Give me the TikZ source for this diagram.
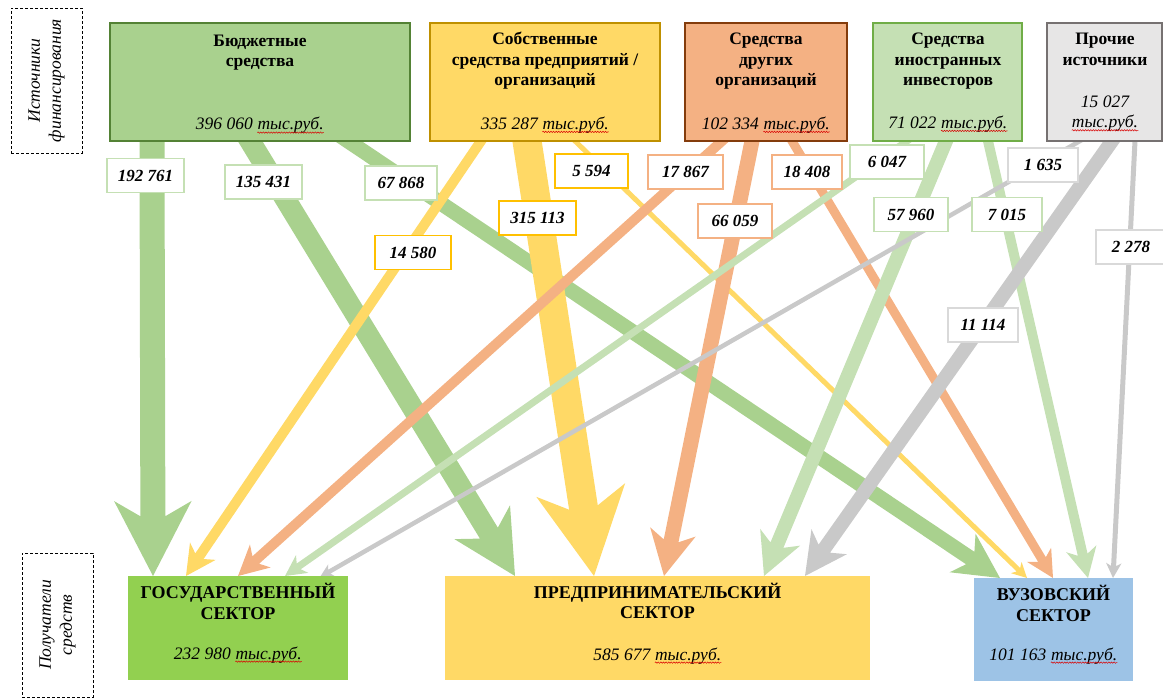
\documentclass[tikz,border=0pt]{standalone}
\usepackage{fontspec}
\setmainfont{Liberation Serif}
\usetikzlibrary{calc,fit,decorations.pathmorphing}
\newcommand\tr{\tikz[baseline=(trw.base)]{\node[inner sep=0pt] (trw) {тыс.руб.};
  \draw[red!85!black, line width=0.5pt, decorate, decoration={snake, amplitude=0.7pt, segment length=2.6pt}]
  ([yshift=-2.6pt]trw.base west) -- ([yshift=-2.6pt]trw.base east);}}
\definecolor{budF}{HTML}{A9D18E}
\definecolor{budD}{HTML}{548235}
\definecolor{ownF}{HTML}{FFD966}
\definecolor{ownD}{HTML}{BF9000}
\definecolor{orgF}{HTML}{F4B183}
\definecolor{orgD}{HTML}{843C0C}
\definecolor{forF}{HTML}{C5E0B4}
\definecolor{forD}{HTML}{70AD47}
\definecolor{othF}{HTML}{E7E6E6}
\definecolor{othD}{HTML}{767171}
\definecolor{othA}{HTML}{C9C9C9}
\definecolor{govF}{HTML}{92D050}
\definecolor{uniF}{HTML}{9DC3E6}
\definecolor{budL}{HTML}{C5E0B4}
\definecolor{ownL}{HTML}{FFC000}
\definecolor{orgL}{HTML}{F4B183}
\definecolor{forL}{HTML}{C5E0B4}
\definecolor{othL}{HTML}{D9D9D9}
% block arrow: #1 start, #2 tip, #3 shaft width, #4 colour
\newcommand\flow[4]{%
  \pgfmathsetmacro\fw{#3/2}%
  \pgfmathsetmacro\fL{3*#3}%
  \pgfmathsetmacro\fH{1.55*#3}%
  \pgfmathsetmacro\fS{3*#3-0.9*#3*(1-0.5/1.55)}%
  \coordinate (fA) at ($(#1)!-18pt!(#2)$);
  \coordinate (fE) at ($(#2)!\fS pt!(#1)$);
  \coordinate (fC) at ($(#2)!\fL pt!(#1)$);
  \fill[#4] ($(fA)!\fw pt!90:(#2)$) -- ($(fE)!\fw pt!90:(#2)$) --
    ($(fC)!\fH pt!90:(#2)$) -- (#2) -- ($(fC)!\fH pt!-90:(#2)$) --
    ($(fE)!\fw pt!-90:(#2)$) -- ($(fA)!\fw pt!-90:(#2)$) -- cycle;
}
\begin{document}
\begin{tikzpicture}[x=1pt,y=-1pt,
  srcbox/.style={inner sep=0pt, line width=2.2pt},
  dstbox/.style={inner sep=0pt, draw=none},
  ttl/.style={font=\bfseries\fontsize{17.5}{20}\selectfont, inner sep=0pt, anchor=base},
  btl/.style={font=\bfseries\fontsize{18}{21}\selectfont, inner sep=0pt, anchor=base},
  amt/.style={font=\itshape\fontsize{17.5}{20}\selectfont, inner sep=0pt, anchor=base},
  lab/.style={draw=#1, fill=white, line width=1.3pt, minimum width=74pt, minimum height=34pt,
    inner sep=0pt, font=\bfseries\itshape\fontsize{17}{20}\selectfont},
  sidebox/.style={draw=black, dash pattern=on 3pt off 2pt, line width=0.9pt, inner sep=0pt},
  side/.style={font=\itshape\fontsize{17.5}{21}\selectfont, align=center, inner sep=0pt, rotate=90}
]
\useasboundingbox (0,0) rectangle (1163,698);
% end points of the flows
\coordinate (b1) at (152,141);  \coordinate (g1) at (153,576);
\coordinate (b2) at (250,141);  \coordinate (p1) at (515,576);
\coordinate (b3) at (348,141);  \coordinate (u1) at (1000,578);
\coordinate (o1) at (481,141);  \coordinate (g2) at (186,576);
\coordinate (o2) at (527,141);  \coordinate (p2) at (594,576);
\coordinate (o3) at (575,141);  \coordinate (u2) at (1027,578);
\coordinate (r1) at (722,141);  \coordinate (g3) at (238,576);
\coordinate (r2) at (752,141);  \coordinate (p3) at (664,576);
\coordinate (r3) at (792,141);  \coordinate (u3) at (1053,578);
\coordinate (f1) at (907,141);  \coordinate (g4) at (285,576);
\coordinate (f2) at (946,141);  \coordinate (p4) at (764,576);
\coordinate (f3) at (988,141);  \coordinate (u4) at (1088,578);
\coordinate (x1) at (1080,141); \coordinate (g5) at (320,577);
\coordinate (x2) at (1112,141); \coordinate (p5) at (805,576);
\coordinate (x3) at (1135,141); \coordinate (u5) at (1113,578);
% flows
\flow{b1}{g1}{25}{budF}
\flow{b2}{p1}{21}{budF}
\flow{b3}{u1}{15}{budF}
\flow{o1}{g2}{10}{ownF}
\flow{o2}{p2}{29}{ownF}
\flow{o3}{u2}{5}{ownF}
\flow{r1}{g3}{10}{orgF}
\flow{r2}{p3}{15}{orgF}
\flow{r3}{u3}{9}{orgF}
\flow{f1}{g4}{7}{forF}
\flow{f2}{p4}{14}{forF}
\flow{f3}{u4}{10}{forF}
\flow{x1}{g5}{4.5}{othA}
\flow{x2}{p5}{14}{othA}
\flow{x3}{u5}{5}{othA}
% source boxes
\node[srcbox, fill=budF, draw=budD, fit={(110,23)(410,141)}] (bud) {};
\node[srcbox, fill=ownF, draw=ownD, fit={(430,23)(660,141)}] (own) {};
\node[srcbox, fill=orgF, draw=orgD, fit={(685,23)(847,141)}] (org) {};
\node[srcbox, fill=forF, draw=forD, fit={(873,23)(1022,141)}] (for) {};
\node[srcbox, fill=othF, draw=othD, fit={(1047,23)(1162,141)}] (oth) {};
\node[ttl] at (260,46.7) {Бюджетные};
\node[ttl] at (260,66.5) {средства};
\node[amt] at (260,130) {396 060 \tr};
\node[ttl] at (545,45) {Собственные};
\node[ttl] at (545,65.7) {средства предприятий /};
\node[ttl] at (545,86) {организаций};
\node[amt] at (545,129.3) {335 287 \tr};
\node[ttl] at (766,45) {Средства};
\node[ttl] at (766,65.7) {других};
\node[ttl] at (766,86) {организаций};
\node[amt] at (766,129.3) {102 334 \tr};
\node[ttl] at (948,45) {Средства};
\node[ttl] at (948,65.7) {иностранных};
\node[ttl] at (948,86) {инвесторов};
\node[amt] at (948,128.3) {71 022 \tr};
\node[ttl] at (1105,45) {Прочие};
\node[ttl] at (1105,65.7) {источники};
\node[amt] at (1105,107.3) {15 027};
\node[amt] at (1105,127.7) {\tr};
% recipient boxes
\node[dstbox, fill=govF, fit={(128,576)(348,680)}] (gov) {};
\node[dstbox, fill=ownF, fit={(445,576)(870,680)}] (bus) {};
\node[dstbox, fill=uniF, fit={(974,578)(1133,681)}] (uni) {};
\node[btl] at (238,598) {ГОСУДАРСТВЕННЫЙ};
\node[btl] at (238,619) {СЕКТОР};
\node[amt] at (238,659) {232 980 \tr};
\node[btl] at (657.5,598) {ПРЕДПРИНИМАТЕЛЬСКИЙ};
\node[btl] at (657.5,618.5) {СЕКТОР};
\node[amt] at (657.5,660) {585 677 \tr};
\node[btl] at (1053.5,600) {ВУЗОВСКИЙ};
\node[btl] at (1053.5,621) {СЕКТОР};
\node[amt] at (1053.5,660) {101 163 \tr};
% flow labels
\node[lab=budL, minimum width=77pt] (l1) at (145.5,175.5) {192 761};
\node[lab=budL, minimum width=77pt] (l2) at (263.5,182) {135 431};
\node[lab=budL, minimum width=72pt] (l3) at (401,183) {67 868};
\node[lab=ownL, minimum width=76pt] (l4) at (413,252.5) {14 580};
\node[lab=ownL, minimum width=77pt] (l5) at (537.5,218) {315 113};
\node[lab=ownL, minimum width=73pt] (l6) at (591.5,171) {5 594};
\node[lab=orgL, minimum width=75pt] (l7) at (685.5,172) {17 867};
\node[lab=orgL, minimum width=74pt] (l8) at (735,221) {66 059};
\node[lab=orgL, minimum width=70pt] (l9) at (807,172) {18 408};
\node[lab=forL, minimum width=74pt] (l10) at (887,162) {6 047};
\node[lab=forL, minimum width=74pt] (l11) at (911,214.5) {57 960};
\node[lab=forL, minimum width=70pt] (l12) at (1007,214.5) {7 015};
\node[lab=othL, minimum width=70pt] (l13) at (1043,165) {1 635};
\node[lab=othL, minimum width=70pt] (l14) at (983,325) {11 114};
\node[lab=othL, minimum width=70pt] (l15) at (1131,247) {2 278};
% side captions
\node[sidebox, fit={(11,8)(82,153)}] (srcside) {};
\node[side] at (srcside.center) {Источники\\финансирования};
\node[sidebox, fit={(22,553)(93,697)}] (dstside) {};
\node[side] at (dstside.center) {Получатели\\средств};
\end{tikzpicture}
\end{document}
